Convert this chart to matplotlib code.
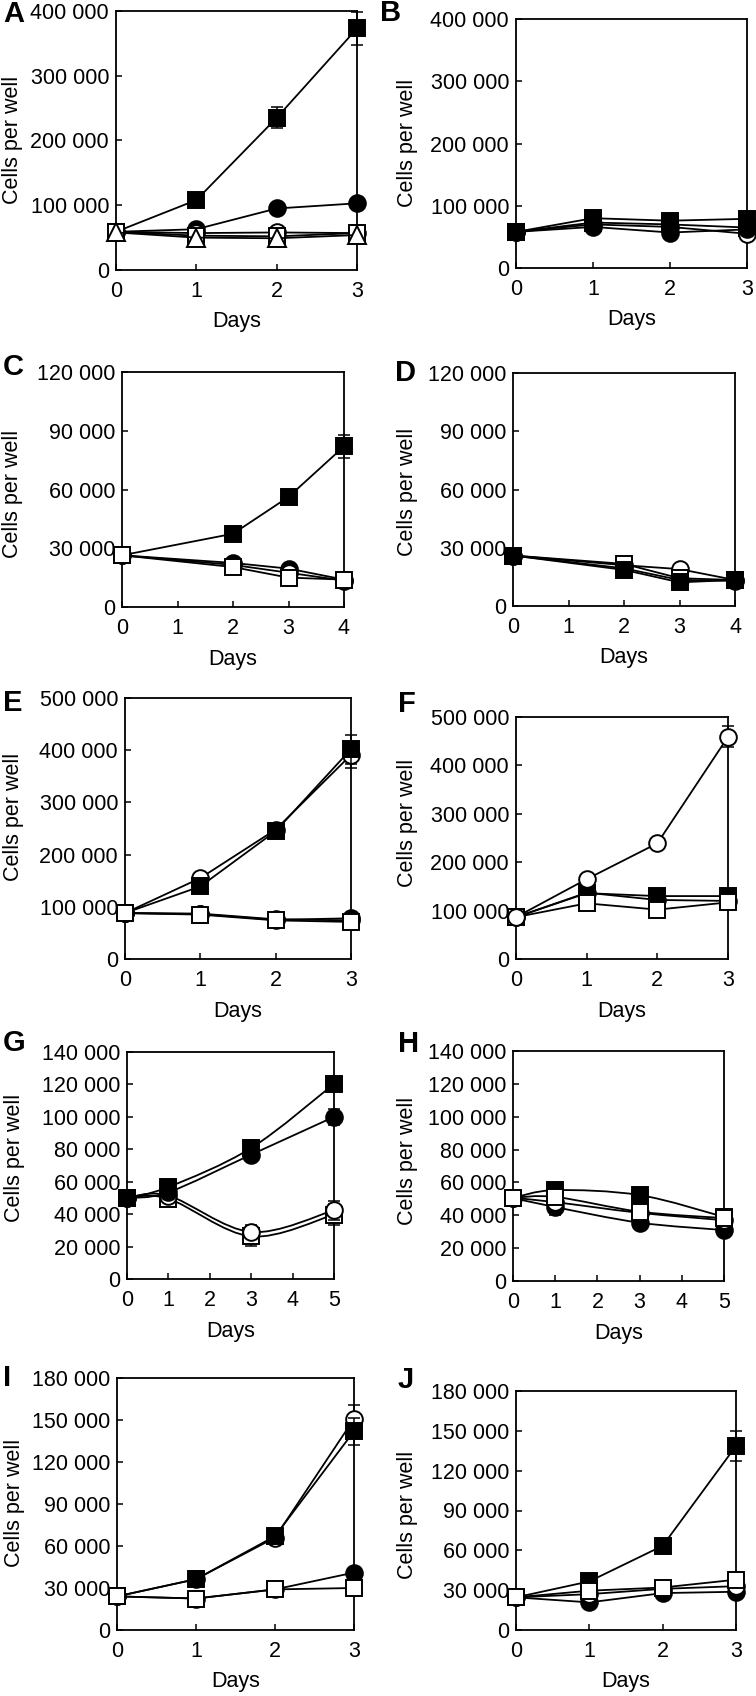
import matplotlib
matplotlib.use("Agg")
import matplotlib.pyplot as plt
from matplotlib.path import Path
from matplotlib.patches import PathPatch
from matplotlib.ticker import FuncFormatter, MultipleLocator
import numpy as np

plt.rcParams['font.family'] = ['Liberation Sans', 'DejaVu Sans']

W, H = 756, 1696

# ---------------- data ----------------
days_A = [0, 1, 2, 3]
A_fsq = [59000, 108000, 235000, 373000]
A_fsq_err = [0, 0, 16000, 26000]
A_fci = [59000, 63000, 95000, 103000]
A_oci = [59000, 57000, 58000, 57000]
A_osq = [59000, 53000, 52000, 57000]
A_otr = [58000, 50000, 49000, 54000]

days_B = [0, 1, 2, 3]
B_osq = [58000, 73000, 70000, 65000]
B_oci = [58000, 70000, 66000, 55000]
B_fci = [58000, 66000, 57000, 62000]
B_fsq = [58000, 80000, 76000, 79000]

days_C = [0, 2, 3, 4]
C_fsq = [26400, 37400, 56200, 82000]
C_fsq_err = [0, 0, 0, 6000]
C_fci = [26400, 22500, 19600, 14000]
C_oci = [26400, 21500, 17500, 13500]
C_osq = [26400, 20400, 15000, 14000]

days_D = [0, 2, 3, 4]
D_oci = [26000, 21000, 19000, 13400]
D_fci = [26000, 19400, 13400, 13000]
D_osq = [26000, 21700, 14300, 13400]
D_fsq = [26000, 18600, 12200, 13400]

days_E = [0, 1, 2, 3]
E_oci = [88000, 155000, 248000, 391000]
E_oci_err = [0, 0, 8000, 25000]
E_fsq = [88000, 139000, 245000, 402000]
E_fsq_err = [0, 0, 8000, 28000]
E_fci = [88000, 86000, 75000, 78000]
E_oci2 = [88000, 87000, 76000, 74000]
E_osq = [88000, 85000, 74000, 71000]

days_F = [0, 1, 2, 3]
F_fsq = [86500, 136000, 130000, 130000]
F_fci = [86500, 137000, 122000, 120000]
F_osq = [86500, 115000, 102000, 117000]
F_oci = [86500, 165000, 239000, 459000]
F_oci_err = [0, 0, 5000, 22000]

days_G = [0, 1, 3, 5]
G_osq = [50000, 49500, 26300, 39700]
G_osq_err = [0, 0, 5700, 6500]
G_oci = [50000, 51400, 29000, 42400]
G_oci_err = [0, 0, 4000, 6000]
G_fci = [50000, 53500, 76700, 100000]
G_fci_err = [0, 0, 3000, 5000]
G_fsq = [50000, 56700, 80800, 120300]
G_fsq_err = [0, 0, 5000, 0]

days_H = [0, 1, 3, 5]
H_fsq = [50600, 55300, 52300, 39000]
H_fsq_err = [0, 0, 0, 3500]
H_fci = [50600, 45000, 35500, 31000]
H_fci_err = [0, 4800, 0, 0]
H_oci = [50600, 48000, 41500, 37000]
H_osq = [50600, 51200, 42200, 38300]

days_I = [0, 1, 2, 3]
I_oci = [24000, 36300, 66000, 150800]
I_oci_err = [0, 0, 0, 10000]
I_fsq = [24000, 36300, 67000, 142000]
I_fsq_err = [0, 0, 0, 9500]
I_fci = [24000, 22500, 29000, 41000]
I_osq = [24000, 22500, 29000, 30000]

days_J = [0, 1, 2, 3]
J_fsq = [24600, 36600, 63400, 138600]
J_fsq_err = [0, 0, 0, 11000]
J_fci = [24600, 20800, 27800, 28800]
J_oci = [24600, 27000, 31000, 33000]
J_osq = [24600, 29600, 32000, 37900]

# marker styles: (marker, filled, size)
STY = {
    'fsq': ('s', True, 11.5),
    'osq': ('s', False, 11.0),
    'fci': ('o', True, 12.0),
    'oci': ('o', False, 12.0),
    'otr': ('^', False, 13.0),
}

panels = [
    ('A', (116, 11, 357, 270), [0, 1, 2, 3], 400000, 100000,
     [(days_A, A_fsq, A_fsq_err, 'fsq'), (days_A, A_fci, None, 'fci'),
      (days_A, A_oci, None, 'oci'), (days_A, A_osq, None, 'osq'),
      (days_A, A_otr, None, 'otr')], False, (3, 14), (13, 140)),
    ('B', (516, 19, 747, 268), [0, 1, 2, 3], 400000, 100000,
     [(days_B, B_osq, None, 'osq'), (days_B, B_oci, None, 'oci'),
      (days_B, B_fci, None, 'fci'), (days_B, B_fsq, None, 'fsq')], False, (380, 13), (408, 143)),
    ('C', (122, 372, 344, 607), [0, 1, 2, 3, 4], 120000, 30000,
     [(days_C, C_fsq, C_fsq_err, 'fsq'), (days_C, C_fci, None, 'fci'),
      (days_C, C_oci, None, 'oci'), (days_C, C_osq, None, 'osq')], False, (3, 367), (13, 494)),
    ('D', (513, 373, 735, 606), [0, 1, 2, 3, 4], 120000, 30000,
     [(days_D, D_oci, None, 'oci'), (days_D, D_fci, None, 'fci'),
      (days_D, D_osq, None, 'osq'), (days_D, D_fsq, None, 'fsq')], False, (395, 373), (407, 492)),
    ('E', (125, 698, 351, 959), [0, 1, 2, 3], 500000, 100000,
     [(days_E, E_oci, E_oci_err, 'oci'), (days_E, E_fsq, E_fsq_err, 'fsq'),
      (days_E, E_fci, None, 'fci'), (days_E, E_oci2, None, 'oci'),
      (days_E, E_osq, None, 'osq')], False, (3, 703), (14, 817)),
    ('F', (516, 717, 728, 959), [0, 1, 2, 3], 500000, 100000,
     [(days_F, F_fsq, None, 'fsq'), (days_F, F_fci, None, 'fci'),
      (days_F, F_osq, None, 'osq'), (days_F, F_oci, F_oci_err, 'oci')], False, (398, 704), (408, 823)),
    ('G', (127, 1052, 334, 1279), [0, 1, 2, 3, 4, 5], 140000, 20000,
     [(days_G, G_osq, G_osq_err, 'osq'), (days_G, G_oci, G_oci_err, 'oci'),
      (days_G, G_fci, G_fci_err, 'fci'), (days_G, G_fsq, G_fsq_err, 'fsq')], True, (3, 1043), (15, 1158)),
    ('H', (513, 1051, 724, 1281), [0, 1, 2, 3, 4, 5], 140000, 20000,
     [(days_H, H_fsq, H_fsq_err, 'fsq'), (days_H, H_fci, H_fci_err, 'fci'),
      (days_H, H_oci, None, 'oci'), (days_H, H_osq, None, 'osq')], True, (398, 1044), (407, 1161)),
    ('I', (117, 1378, 354, 1630), [0, 1, 2, 3], 180000, 30000,
     [(days_I, I_oci, I_oci_err, 'oci'), (days_I, I_fsq, I_fsq_err, 'fsq'),
      (days_I, I_fci, None, 'fci'), (days_I, I_osq, None, 'osq')], False, (3, 1378), (15, 1503)),
    ('J', (516, 1391, 736, 1630), [0, 1, 2, 3], 180000, 30000,
     [(days_J, J_fsq, J_fsq_err, 'fsq'), (days_J, J_fci, None, 'fci'),
      (days_J, J_oci, None, 'oci'), (days_J, J_osq, None, 'osq')], False, (398, 1380), (408, 1515)),
]


def fmt(v, pos):
    v = int(round(v))
    if v == 0:
        return '0'
    return f'{v:,}'.replace(',', ' ')


def smooth_path(x, y):
    x = np.asarray(x, float)
    y = np.asarray(y, float)
    pts = np.column_stack([x, y])
    n = len(pts)
    verts = [pts[0]]
    codes = [Path.MOVETO]
    for i in range(n - 1):
        p0 = pts[i - 1] if i > 0 else pts[i]
        p1 = pts[i]
        p2 = pts[i + 1]
        p3 = pts[i + 2] if i + 2 < n else pts[i + 1]
        c1 = p1 + (p2 - p0) / 6.0
        c2 = p2 - (p3 - p1) / 6.0
        verts += [c1, c2, p2]
        codes += [Path.CURVE4] * 3
    return Path(verts, codes)


fig = plt.figure(figsize=(W / 100, H / 100), dpi=100)

FS = 15.5
for (letter, (l, t, r, b), xt, ymax, ystep, series, smooth, lpos, ylpos) in panels:
    ax = fig.add_axes([l / W, 1 - b / H, (r - l) / W, (b - t) / H])
    ax.set_xlim(xt[0], xt[-1])
    ax.set_ylim(0, ymax)
    ax.set_xticks(xt)
    ax.yaxis.set_major_locator(MultipleLocator(ystep))
    ax.yaxis.set_major_formatter(FuncFormatter(fmt))
    ax.tick_params(axis='both', direction='in', length=4.5, width=1.1, labelsize=FS)
    ax.tick_params(axis='x', pad=8)
    ax.tick_params(axis='y', pad=5)
    for sp in ax.spines.values():
        sp.set_linewidth(1.3)
    z = 3
    for (xs, ys, err, key) in series:
        m, filled, ms = STY[key]
        if smooth:
            patch = PathPatch(smooth_path(xs, ys), facecolor='none', edgecolor='black',
                              lw=1.3, transform=ax.transData, zorder=z, clip_on=False)
            ax.add_patch(patch)
        else:
            ax.plot(xs, ys, '-', color='black', lw=1.3, zorder=z, clip_on=False)
        if err is not None:
            ax.errorbar(xs, ys, yerr=err, fmt='none', ecolor='black', elinewidth=1.1,
                        capsize=4.5, capthick=1.1, zorder=z + 0.1, clip_on=False)
        ax.plot(xs, ys, linestyle='none', marker=m, markersize=ms,
                markerfacecolor='black' if filled else 'white',
                markeredgecolor='black', markeredgewidth=1.4,
                zorder=z + 0.2, clip_on=False)
        z += 1
    fig.text(lpos[0] / W, 1 - lpos[1] / H, letter, fontsize=21, fontweight='bold',
             ha='left', va='center')
    fig.text(ylpos[0] / W, 1 - ylpos[1] / H, 'Cells per well', fontsize=FS,
             rotation=90, ha='center', va='center')
    fig.text(((l + r) / 2) / W, 1 - (b + 52) / H, 'Days', fontsize=FS,
             ha='center', va='center')

fig.savefig('out.png', dpi=100)
